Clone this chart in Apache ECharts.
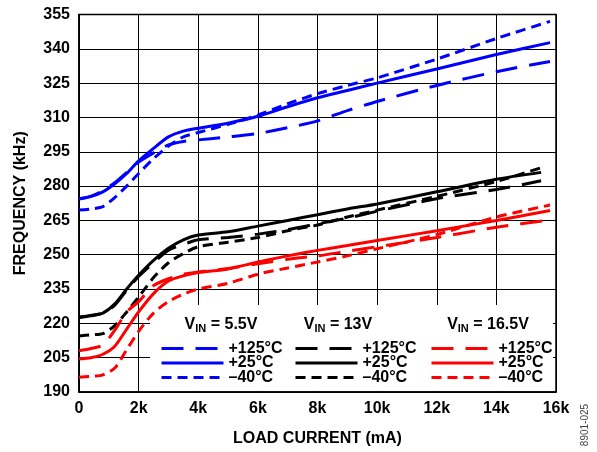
<!DOCTYPE html>
<html>
<head>
<meta charset="utf-8">
<script src="https://cdn.jsdelivr.net/npm/echarts@6/dist/echarts.min.js"></script>
<style>html,body{margin:0;padding:0;background:#fff}#c{width:597px;height:452px}</style>
</head>
<body>
<div id="c"></div>
<script>
// Load current (mA)
const xMain  = [0, 400, 800, 1200, 1600, 2000, 2500, 3000, 3500, 4000, 5000, 6000, 7000, 8000, 9000, 10000, 12000, 14000, 15800];
const xBlack = [0, 400, 800, 1200, 1600, 2000, 2500, 3000, 3500, 4000, 5000, 6000, 7000, 8000, 9000, 10000, 12000, 14000, 15500];

// Frequency (kHz)
const blue125 = [274.3, 275.5, 278, 281.5, 286, 290.5, 294.5, 298, 299.5, 300.2, 301.5, 303, 305.5, 308.5, 313, 317, 324, 330, 334.5];
const blue25  = [274.5, 275.5, 277.5, 281, 285.5, 291, 296.5, 301.5, 304, 305.3, 307.5, 310.5, 314.7, 318.6, 321.8, 325, 331.2, 337.5, 342.7];
const blueM40 = [269.5, 270, 271, 275, 280, 285.5, 292, 297.5, 301.5, 303.4, 307, 311, 316, 320.4, 324, 327.3, 335.5, 344.5, 352];

const black125 = [222.5, 223.3, 224.5, 228, 234.5, 240.5, 246.5, 252, 254.5, 256.5, 257.5, 259, 261, 263.5, 266, 269, 274.5, 278.5, 282.3];
const black25  = [222.8, 223.5, 224.5, 228.5, 235, 241, 247.5, 252.8, 256.5, 258.6, 260, 262.5, 265, 267.5, 270, 272.2, 277.5, 283, 286];
const blackM40 = [214.5, 215, 215.5, 219, 225, 231.5, 240, 246.5, 250.5, 253.5, 255.5, 257.5, 260.5, 263, 266.5, 269.5, 275.5, 282, 288];

const red125 = [208, 209, 210.5, 217, 225, 229.5, 236.5, 239.5, 241.5, 242.5, 244, 246, 248, 249.5, 251.5, 253.5, 257.5, 262, 265.2];
const red25  = [204.5, 205, 206.5, 210, 217.5, 225, 233, 238.5, 240.8, 242.2, 243.8, 246.8, 249.5, 251.9, 254, 256.2, 260.5, 265, 269.3];
const redM40 = [196.5, 196.8, 197.5, 200.5, 208.5, 216.5, 224.5, 229.5, 232.8, 235, 237.5, 241.5, 244.2, 246.8, 249.5, 252.6, 258.8, 266.5, 271.7];

const xTicks = ['0', '2k', '4k', '6k', '8k', '10k', '12k', '14k', '16k'];
const yTicks = [190, 205, 220, 235, 250, 265, 280, 295, 310, 325, 340, 355];

const groups = [
  { vin: '5.5V', color: '#0000ff', x: xMain,  s: [blue125, blue25, blueM40] },
  { vin: '13V',  color: '#000000', x: xBlack, s: [black125, black25, blackM40] },
  { vin: '16.5V',color: '#ff0000', x: xMain,  s: [red125, red25, redM40] }
];
const temps = ['+125°C', '+25°C', '–40°C'];
const dashTypes = [[22, 12], 'solid', [10, 6]];

const zip = (xs, ys) => xs.map((x, i) => [x, ys[i]]);
const series = [];
groups.forEach(g => {
  g.s.forEach((ys, k) => {
    series.push({
      name: g.vin + '|' + temps[k],
      type: 'line',
      data: zip(g.x, ys),
      smooth: 0.25,
      symbol: 'none',
      z: 3,
      lineStyle: { color: g.color, width: 3, type: dashTypes[k] },
      itemStyle: { color: g.color }
    });
  });
});

const FONT = 'Liberation Sans, Arial, sans-serif';
const FS = 16;
const legLefts = [160, 294, 430];
const legends = groups.map((g, i) => ({
  data: temps.map(t => g.vin + '|' + t),
  orient: 'vertical',
  left: legLefts[i],
  top: 340.5,
  itemWidth: 62,
  itemHeight: 14,
  itemGap: -1.5,
  padding: 0,
  selectedMode: false,
  formatter: n => n.split('|')[1],
  textStyle: { fontFamily: FONT, fontWeight: 'bold', fontSize: FS, lineHeight: 14, color: '#000' },
  itemStyle: { opacity: 0 },
  lineStyle: { width: 3 }
}));

const headerX = [221, 338, 488];
const headerGraphics = groups.map((g, i) => ({
  type: 'text',
  x: headerX[i],
  y: 325,
  z: 10,
  style: {
    text: '{a|V}{b|IN}{a| = ' + g.vin + '}',
    align: 'center',
    verticalAlign: 'middle',
    rich: {
      a: { fontFamily: FONT, fontWeight: 'bold', fontSize: FS, fill: '#000' },
      b: { fontFamily: FONT, fontWeight: 'bold', fontSize: 11, fill: '#000', padding: [8, 0, 0, 0] }
    }
  }
}));

const chart = echarts.init(document.getElementById('c'), null, { renderer: 'canvas' });
chart.setOption({
  animation: false,
  backgroundColor: '#fff',
  grid: { left: 79, right: 41, top: 14.5, bottom: 58, show: true, borderColor: '#000', borderWidth: 1.5, backgroundColor: 'transparent' },
  xAxis: {
    type: 'value', min: 0, max: 16000, interval: 2000,
    name: 'LOAD CURRENT (mA)', nameLocation: 'middle', nameGap: 39,
    nameTextStyle: { fontFamily: FONT, fontWeight: 'bold', fontSize: FS, color: '#000' },
    axisLine: { show: true, lineStyle: { color: '#000', width: 1.5 } },
    axisTick: { show: false },
    splitLine: { show: true, lineStyle: { color: '#000', width: 1 } },
    axisLabel: { margin: 9, fontFamily: FONT, fontWeight: 'bold', fontSize: FS, color: '#000',
      formatter: v => xTicks[Math.round(v / 2000)] }
  },
  yAxis: {
    type: 'value', min: yTicks[0], max: yTicks[yTicks.length - 1], interval: 15,
    name: 'FREQUENCY (kHz)', nameLocation: 'middle', nameGap: 50, nameRotate: 90,
    nameTextStyle: { fontFamily: FONT, fontWeight: 'bold', fontSize: FS, color: '#000' },
    axisLine: { show: true, lineStyle: { color: '#000', width: 1.5 } },
    axisTick: { show: false },
    splitLine: { show: true, lineStyle: { color: '#000', width: 1 } },
    axisLabel: { margin: 9, fontFamily: FONT, fontWeight: 'bold', fontSize: FS, color: '#000' }
  },
  legend: legends,
  graphic: [
    { type: 'rect', z: 1, shape: { x: 150, y: 305, width: 403, height: 86 }, style: { fill: '#fff' } },
    ...headerGraphics,
    { type: 'text', x: 585, y: 425, rotation: Math.PI / 2, z: 10,
      style: { text: '8901-025', align: 'center', verticalAlign: 'middle', fontFamily: FONT, fontSize: 10, fill: '#444' } }
  ],
  series: series
});
</script>
</body>
</html>
